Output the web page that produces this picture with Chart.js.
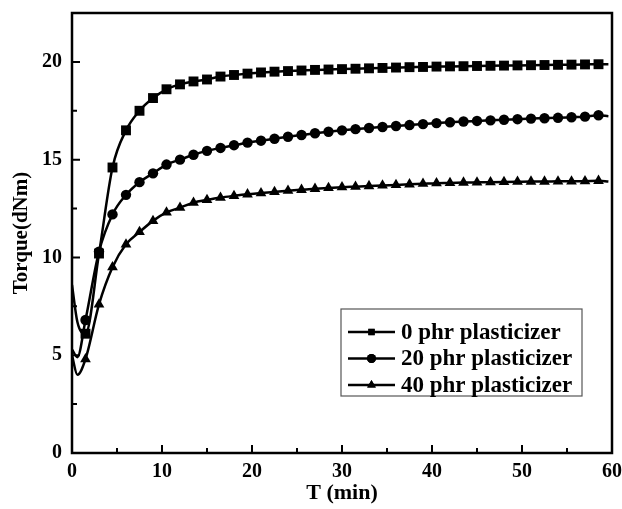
<!DOCTYPE html>
<html lang="en">
<head>
  <meta charset="UTF-8">
  <title>Torque vs time</title>
  <script src="https://cdn.jsdelivr.net/npm/chart.js@4.4.1/dist/chart.umd.min.js"></script>
  <style>
    html, body { margin: 0; padding: 0; background: #fff; }
    #wrap { width: 622px; height: 509px; position: relative; }
  </style>
</head>
<body>
  <div id="wrap"><canvas id="torqueChart"></canvas></div>
  <script>
    // time (min) - first two points and last one are line only, no marker
    const time = [0, 0.6, 1.5, 3, 4.5, 6, 7.5, 9, 10.5, 12, 13.5, 15, 16.5, 18, 19.5, 21, 22.5, 24, 25.5, 27,
      28.5, 30, 31.5, 33, 34.5, 36, 37.5, 39, 40.5, 42, 43.5, 45, 46.5, 48, 49.5, 51, 52.5, 54, 55.5, 57, 58.5, 59.6];

    const phr0 = [8.6, 6.7, 6.1, 10.2, 14.6, 16.5, 17.5, 18.15, 18.6, 18.85, 19.0, 19.1, 19.25, 19.33, 19.4, 19.46, 19.5, 19.53, 19.56, 19.59,
      19.61, 19.63, 19.65, 19.67, 19.69, 19.71, 19.73, 19.74, 19.76, 19.77, 19.78, 19.79, 19.8, 19.81, 19.82, 19.83, 19.84, 19.85, 19.86, 19.87, 19.88, 19.88];
    const phr20 = [5.3, 4.9, 6.8, 10.3, 12.2, 13.2, 13.85, 14.3, 14.75, 15.0, 15.25, 15.45, 15.6, 15.74, 15.87, 15.97, 16.07, 16.17, 16.26, 16.35,
      16.43, 16.5, 16.56, 16.62, 16.67, 16.72, 16.77, 16.82, 16.87, 16.91, 16.95, 16.98, 17.01, 17.04, 17.07, 17.1, 17.12, 17.14, 17.17, 17.2, 17.27, 17.22];
    const phr40 = [5.0, 4.0, 4.8, 7.6, 9.5, 10.67, 11.3, 11.87, 12.3, 12.55, 12.8, 12.94, 13.06, 13.15, 13.23, 13.29, 13.35, 13.41, 13.46, 13.51,
      13.55, 13.59, 13.62, 13.65, 13.68, 13.71, 13.74, 13.77, 13.8, 13.81, 13.83, 13.84, 13.85, 13.86, 13.87, 13.88, 13.88, 13.89, 13.89, 13.9, 13.92, 13.88];

    const seriesNames = ['0 phr plasticizer', '20 phr plasticizer', '40 phr plasticizer'];
    const xTicks = [0, 10, 20, 30, 40, 50, 60];
    const yTicks = [0, 5, 10, 15, 20];

    const serif = "'Liberation Serif', 'Times New Roman', serif";

    function pts(vals) {
      return vals.map((v, i) => ({ x: time[i], y: v }));
    }
    function markerRadius(r) {
      return ctx => (ctx.dataIndex < 2 || ctx.dataIndex === time.length - 1) ? 0 : r;
    }

    function makeSet(label, vals, style, r) {
      return {
        label: label,
        data: pts(vals),
        borderColor: '#000',
        backgroundColor: '#000',
        borderWidth: 2.5,
        pointStyle: style,
        pointRadius: markerRadius(r),
        pointBorderWidth: 0,
        pointBackgroundColor: '#000',
        cubicInterpolationMode: 'monotone'
      };
    }

    // frame, inward ticks and legend box
    const framePlugin = {
      id: 'frame',
      afterDraw(chart) {
        const c = chart.ctx;
        const a = chart.chartArea;
        const xs = chart.scales.x, ys = chart.scales.y;
        c.save();
        c.strokeStyle = '#000';
        c.lineWidth = 2.5;
        c.strokeRect(a.left, a.top, a.right - a.left, a.bottom - a.top);
        c.lineWidth = 2;
        c.beginPath();
        for (let v = 0; v <= 60; v += 5) {
          const px = xs.getPixelForValue(v);
          const len = xTicks.includes(v) ? 8 : 5;
          c.moveTo(px, a.bottom);
          c.lineTo(px, a.bottom - len);
        }
        for (let v = 0; v <= 22.5; v += 2.5) {
          const py = ys.getPixelForValue(v);
          const len = yTicks.includes(v) ? 8 : 5;
          c.moveTo(a.left, py);
          c.lineTo(a.left + len, py);
        }
        c.stroke();

        // legend
        const bx = 341, by = 309, bw = 241, bh = 87;
        c.lineWidth = 1.2;
        c.strokeStyle = '#555';
        c.strokeRect(bx, by, bw, bh);
        c.font = 'bold 23px ' + serif;
        c.fillStyle = '#000';
        c.textBaseline = 'middle';
        chart.data.datasets.forEach((ds, i) => {
          const y = by + 23 + i * 26.5;
          c.strokeStyle = '#000';
          c.lineWidth = 2.5;
          c.beginPath();
          c.moveTo(348, y);
          c.lineTo(395, y);
          c.stroke();
          Chart.helpers.drawPoint(c, { pointStyle: ds.pointStyle, radius: ds.pointStyle === 'triangle' ? 5 : 4.5, borderWidth: 0 }, 371.5, y);
          c.fill();
          c.fillText(ds.label, 401, y + 1);
        });
        c.restore();
      }
    };

    new Chart(document.getElementById('torqueChart'), {
      type: 'line',
      data: {
        datasets: [
          makeSet(seriesNames[0], phr0, 'rect', 7),
          makeSet(seriesNames[1], phr20, 'circle', 5.2),
          makeSet(seriesNames[2], phr40, 'triangle', 6.2)
        ]
      },
      options: {
        responsive: true,
        maintainAspectRatio: false,
        animation: false,
        layout: { padding: { top: 13, right: 10, left: 0, bottom: 0 } },
        plugins: { legend: { display: false }, tooltip: { enabled: false } },
        scales: {
          x: {
            type: 'linear',
            min: 0, max: 60,
            afterFit(s) { s.height = 56; s.paddingLeft = 0; s.paddingRight = 0; },
            grid: { display: false, drawTicks: false },
            border: { display: false },
            ticks: {
              stepSize: 10, padding: 7, color: '#000',
              font: { family: serif, size: 20, weight: 'bold' },
              maxRotation: 0
            },
            title: {
              display: true, text: 'T (min)', color: '#000',
              font: { family: serif, size: 22, weight: 'bold' },
              padding: { top: 0, bottom: 2 }
            }
          },
          y: {
            min: 0, max: 22.5,
            afterFit(s) { s.width = 72; s.paddingTop = 0; s.paddingBottom = 0; },
            grid: { display: false, drawTicks: false },
            border: { display: false },
            ticks: {
              stepSize: 5, padding: 10, color: '#000', includeBounds: false,
              font: { family: serif, size: 20, weight: 'bold' }
            },
            title: {
              display: true, text: 'Torque(dNm)', color: '#000',
              font: { family: serif, size: 21, weight: 'bold' },
              padding: { top: 9, bottom: 0 }
            }
          }
        }
      },
      plugins: [framePlugin]
    });
  </script>
</body>
</html>
